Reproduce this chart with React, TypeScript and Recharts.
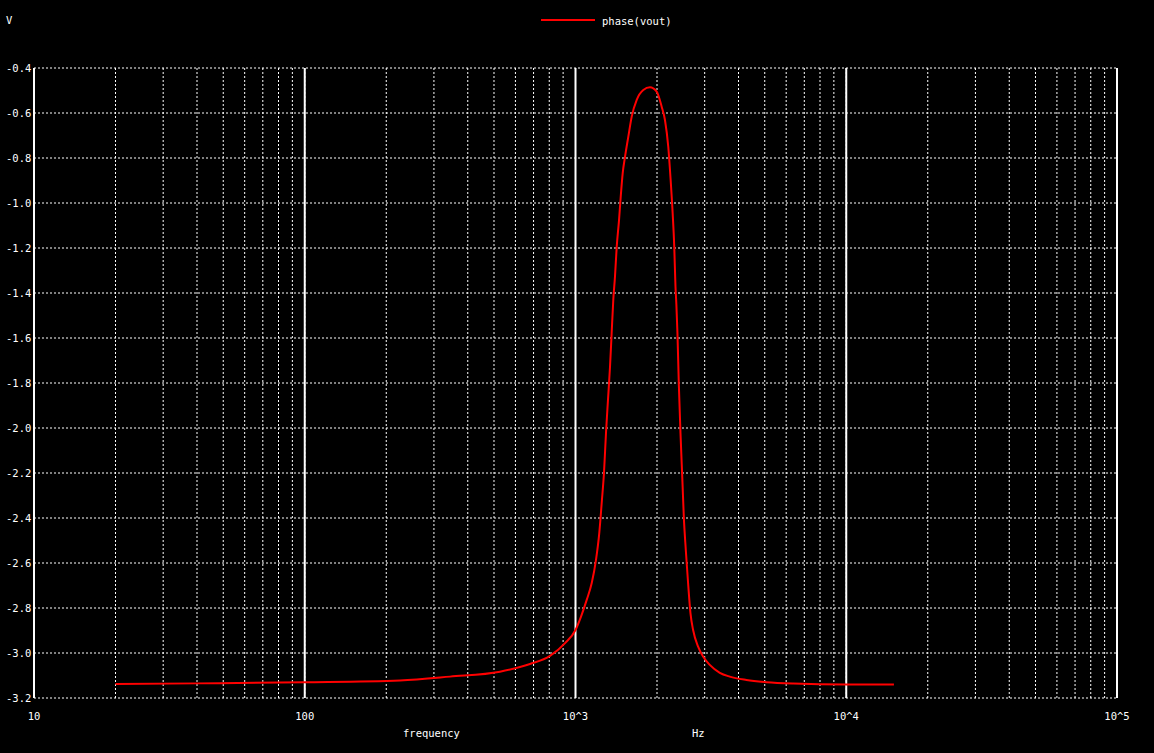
import { LineChart, Line, XAxis, YAxis, CartesianGrid, ReferenceLine } from "recharts";

// sweep frequencies (Hz)
const freqs = [
  20, 40, 100, 225, 344, 526, 679, 805, 915, 1000, 1048, 1100, 1148, 1190, 1224, 1252,
  1274, 1296, 1318, 1341, 1360, 1379, 1399, 1420, 1448, 1469, 1494, 1524, 1567, 1613,
  1683, 1780, 1884, 1994, 2081, 2140, 2201, 2246, 2285, 2316, 2340, 2358, 2380, 2407,
  2442, 2484, 2512, 2555, 2605, 2659, 2719, 2837, 2960, 3133, 3412, 3713, 4279, 5073,
  6361, 10000, 15000,
];
// phase(vout) in rad
const phase = [
  -3.138, -3.135, -3.13, -3.122, -3.105, -3.083, -3.049, -3.013, -2.956, -2.898, -2.838,
  -2.764, -2.689, -2.587, -2.467, -2.32, -2.2, -2.022, -1.876, -1.729, -1.578, -1.431,
  -1.327, -1.194, -1.076, -0.972, -0.867, -0.794, -0.705, -0.616, -0.542, -0.498, -0.486,
  -0.505, -0.572, -0.631, -0.75, -0.898, -1.046, -1.194, -1.37, -1.45, -1.58, -1.8,
  -2.022, -2.244, -2.394, -2.542, -2.689, -2.824, -2.898, -2.972, -3.016, -3.053, -3.088,
  -3.105, -3.12, -3.13, -3.136, -3.14, -3.14,
];

const decades = [10, 100, 1000, 10000, 100000];
const decadeLabels = ["10", "100", "10^3", "10^4", "10^5"];
const yTicks = [-3.2, -3.0, -2.8, -2.6, -2.4, -2.2, -2.0, -1.8, -1.6, -1.4, -1.2, -1.0, -0.8, -0.6, -0.4];
const multipliers = [1, 2, 3, 4, 5, 6, 7, 8, 9];

const gridFreqs: number[] = [];
decades.slice(0, 4).forEach((d) => multipliers.forEach((m) => gridFreqs.push(d * m)));
gridFreqs.push(100000);

const data = freqs.map((f, i) => ({ freq: f, phase: phase[i] }));

const font = "'DejaVu Sans Mono', monospace";
const fg = "#ffffff";

const XTick = (props: any) => {
  const { x, y, payload } = props;
  const i = decades.indexOf(payload.value);
  if (i < 0) return null;
  return (
    <text x={x} y={y + 10} fill={fg} fontSize={10.5} fontFamily={font} textAnchor="middle" dominantBaseline="central">
      {decadeLabels[i]}
    </text>
  );
};

const YTick = (props: any) => {
  const { y, payload } = props;
  return (
    <text x={6} y={y} fill={fg} fontSize={10.5} fontFamily={font} textAnchor="start" dominantBaseline="central">
      {payload.value.toFixed(1)}
    </text>
  );
};

export default function App() {
  return (
    <div style={{ position: "absolute", left: 0, top: 0, width: 1154, height: 753, background: "#000", overflow: "hidden" }}>
      <LineChart width={1154} height={753} data={data} margin={{ top: 68, right: 37, bottom: 0, left: 0 }}>
        <CartesianGrid stroke={fg} strokeDasharray="2 2" strokeWidth={1} />
        <XAxis
          dataKey="freq"
          type="number"
          scale="log"
          domain={[10, 100000]}
          ticks={gridFreqs}
          interval={0}
          axisLine={false}
          tickLine={false}
          height={55}
          tick={<XTick />}
        />
        <YAxis
          type="number"
          domain={[-3.2, -0.4]}
          ticks={yTicks}
          interval={0}
          axisLine={false}
          tickLine={false}
          width={34}
          tick={<YTick />}
        />
        {decades.map((d) => (
          <ReferenceLine key={d} x={d} stroke={fg} strokeWidth={2} />
        ))}
        <Line
          type="monotone"
          dataKey="phase"
          stroke="#ff0000"
          strokeWidth={2}
          dot={false}
          isAnimationActive={false}
        />
      </LineChart>
      <div style={{ position: "absolute", left: 6, top: 14, color: fg, fontFamily: font, fontSize: 10.5 }}>V</div>
      <div style={{ position: "absolute", left: 541, top: 19, width: 54, height: 2, background: "#ff0000" }} />
      <div style={{ position: "absolute", left: 602, top: 15, color: fg, fontFamily: font, fontSize: 10.5 }}>phase(vout)</div>
      <div style={{ position: "absolute", left: 403, top: 727, color: fg, fontFamily: font, fontSize: 10.5 }}>frequency</div>
      <div style={{ position: "absolute", left: 692, top: 727, color: fg, fontFamily: font, fontSize: 10.5 }}>Hz</div>
    </div>
  );
}
